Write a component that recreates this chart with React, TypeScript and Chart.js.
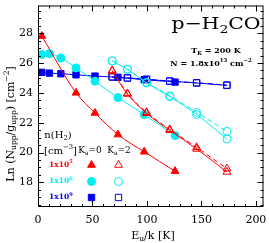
import React, { useEffect, useRef } from "react";
import { Chart, registerables } from "chart.js";

Chart.register(...registerables);

// Energies of upper levels (K)
const E_KA0 = [3.5, 10.5, 21.0, 34.9, 52.3, 73.4, 97.5, 125.8];
const E_KA0_RED = [3.5, 34.9, 52.3, 73.4, 97.5, 125.8];
const E_KA2 = [68.1, 82.1, 99.6, 120.9, 145.6, 173.4];

// Ln(Nupp/gupp) values
const RED_KA0 = [27.8, 24.0, 22.65, 21.2, 20.05, 18.75];
const CYAN_KA0 = [26.57, 26.62, 26.33, 25.67, 24.78, 23.68, 22.54, 21.14];
const BLUE_KA0 = [25.37, 25.32, 25.28, 25.21, 25.12, 25.04, 24.88, 24.72];

const RED_KA2 = [25.45, 23.92, 22.63, 21.49, 20.24, 18.7];
const RED_KA2_B = [25.5, 23.96, 22.7, 21.55, 20.35, 18.92];
const CYAN_KA2 = [26.14, 25.57, 24.66, 23.75, 22.55, 20.91];
const CYAN_KA2_B = [26.14, 25.58, 24.7, 23.8, 22.69, 21.42];
const BLUE_KA2 = [25.06, 24.99, 24.9, 24.78, 24.66, 24.5];
const BLUE_KA2_B = [25.07, 25.0, 24.91, 24.79, 24.67, 24.52];

const X_MIN = 0;
const X_MAX = 207;
const Y_MIN = 16.35;
const Y_MAX = 29.85;
const X_MAJOR = 50;
const X_MINOR = 10;
const Y_MAJOR = 2;
const Y_MINOR = 0.5;
const X_TICK_LABELS = [0, 50, 100, 150, 200];
const Y_TICK_LABELS = [18, 20, 22, 24, 26, 28];

const DENSITY_EXP = ["5", "6", "9"];

const RED = "#ff0000";
const CYAN = "#00eef2";
const BLUE = "#0000ee";
const SERIF = "'DejaVu Serif'";

type Seg = { t: string; k?: "sub" | "sup" };

function rich(
  ctx: CanvasRenderingContext2D,
  segs: Seg[],
  x: number,
  y: number,
  size: number,
  weight: string,
  color: string,
  align: "left" | "center" | "right" = "center",
  family: string = SERIF
) {
  const fN = `${weight} ${size}px ${family}`;
  const fS = `${weight} ${Math.round(size * 0.68 * 10) / 10}px ${family}`;
  ctx.save();
  ctx.fillStyle = color;
  ctx.textBaseline = "middle";
  ctx.textAlign = "left";
  let w = 0;
  for (const s of segs) {
    ctx.font = s.k ? fS : fN;
    w += ctx.measureText(s.t).width;
  }
  let cx = align === "center" ? x - w / 2 : align === "left" ? x : x - w;
  for (const s of segs) {
    ctx.font = s.k ? fS : fN;
    const dy = s.k === "sub" ? size * 0.32 : s.k === "sup" ? -size * 0.38 : 0;
    ctx.fillText(s.t, cx, y + dy);
    cx += ctx.measureText(s.t).width;
  }
  ctx.restore();
}

function marker(
  ctx: CanvasRenderingContext2D,
  kind: string,
  x: number,
  y: number,
  r: number,
  color: string,
  filled: boolean
) {
  ctx.save();
  ctx.beginPath();
  if (kind === "triangle") {
    ctx.moveTo(x, y - r);
    ctx.lineTo(x + r * 0.866, y + r * 0.5);
    ctx.lineTo(x - r * 0.866, y + r * 0.5);
    ctx.closePath();
  } else if (kind === "circle") {
    ctx.arc(x, y, r, 0, Math.PI * 2);
  } else {
    const s = r * Math.SQRT1_2;
    ctx.rect(x - s, y - s, 2 * s, 2 * s);
  }
  ctx.lineWidth = 1;
  ctx.strokeStyle = color;
  if (filled) {
    ctx.fillStyle = color;
    ctx.fill();
  }
  ctx.stroke();
  ctx.restore();
}

const decorPlugin = {
  id: "decor",
  afterDraw(chart: any) {
    const ctx: CanvasRenderingContext2D = chart.ctx;
    const { left, right, top, bottom } = chart.chartArea;
    const xs = chart.scales.x;
    const ys = chart.scales.y;
    ctx.save();
    ctx.strokeStyle = "#000";
    ctx.lineWidth = 1;
    ctx.strokeRect(left + 0.5, top + 0.5, right - left - 1, bottom - top - 1);
    // ticks
    ctx.beginPath();
    for (let v = X_MIN; v <= X_MAX + 1e-6; v += X_MINOR) {
      const p = Math.round(xs.getPixelForValue(v)) + 0.5;
      const major = Math.abs(v % X_MAJOR) < 1e-6;
      const len = major ? 6 : 3;
      ctx.moveTo(p, bottom);
      ctx.lineTo(p, bottom - len);
      ctx.moveTo(p, top);
      ctx.lineTo(p, top + len);
    }
    const y0 = Math.ceil(Y_MIN / Y_MINOR) * Y_MINOR;
    for (let v = y0; v <= Y_MAX + 1e-6; v += Y_MINOR) {
      const p = Math.round(ys.getPixelForValue(v)) + 0.5;
      const major = Math.abs(v % Y_MAJOR) < 1e-6;
      const len = major ? 6 : 3;
      ctx.moveTo(left, p);
      ctx.lineTo(left + len, p);
      ctx.moveTo(right, p);
      ctx.lineTo(right - len, p);
    }
    ctx.stroke();

    // tick labels
    ctx.fillStyle = "#000";
    ctx.font = `11px ${SERIF}`;
    ctx.textBaseline = "middle";
    ctx.textAlign = "center";
    X_TICK_LABELS.forEach((v) => {
      ctx.fillText(String(v), xs.getPixelForValue(v), bottom + 13);
    });
    ctx.textAlign = "right";
    Y_TICK_LABELS.forEach((v) => {
      ctx.fillText(String(v), left - 5, ys.getPixelForValue(v));
    });
    ctx.restore();

    // axis titles
    ctx.save();
    ctx.translate(11, 124);
    ctx.rotate(-Math.PI / 2);
    rich(
      ctx,
      [
        { t: "Ln (N" },
        { t: "upp", k: "sub" },
        { t: "/g" },
        { t: "upp", k: "sub" },
        { t: ") [cm" },
        { t: "−2", k: "sup" },
        { t: "]" },
      ],
      0,
      0,
      11,
      "normal",
      "#000"
    );
    ctx.restore();
    rich(ctx, [{ t: "E" }, { t: "u", k: "sub" }, { t: "/k [K]" }], 153, 236, 11, "normal", "#000");

    // title
    ctx.save();
    ctx.translate(216, 25);
    ctx.scale(1.2, 1);
    rich(ctx, [{ t: "p−H" }, { t: "2", k: "sub" }, { t: "CO" }], 0, 0, 17, "normal", "#000");
    ctx.restore();
    rich(ctx, [{ t: "T" }, { t: "K", k: "sub" }, { t: " = 200 K" }], 216, 51, 8, "bold", "#000");
    rich(
      ctx,
      [{ t: "N = 1.8x10" }, { t: "13", k: "sup" }, { t: " cm" }, { t: "−2", k: "sup" }],
      211,
      64,
      8,
      "bold",
      "#000"
    );

    // legend block
    rich(ctx, [{ t: "n(H" }, { t: "2", k: "sub" }, { t: ")" }], 58, 135, 10, "normal", "#000");
    rich(ctx, [{ t: "[cm" }, { t: "−3", k: "sup" }, { t: "]" }], 44, 151, 10, "normal", "#000", "left");
    rich(ctx, [{ t: "K" }, { t: "a", k: "sub" }, { t: "=0" }], 90, 151, 9, "normal", "#000");
    rich(ctx, [{ t: "K" }, { t: "a", k: "sub" }, { t: "=2" }], 119, 151, 9, "normal", "#000");
    const rows = [
      { c: RED, y: 165, m: "triangle", r: 4.5 },
      { c: CYAN, y: 181.5, m: "circle", r: 4 },
      { c: BLUE, y: 197.5, m: "rect", r: 4.5 },
    ];
    rows.forEach((row, i) => {
      rich(ctx, [{ t: "1x10" }, { t: DENSITY_EXP[i], k: "sup" }], 49, row.y, 7.5, "bold", row.c, "left");
      marker(ctx, row.m, 91.5, row.y, row.r, row.c, true);
      marker(ctx, row.m, 118.5, row.y, row.r, row.c, false);
    });
  },
};

const pts = (xs: number[], ys: number[]) => xs.map((x, i) => ({ x, y: ys[i] }));

function series(
  xs: number[],
  ys: number[],
  color: string,
  style: string,
  radius: number,
  filled: boolean,
  dashed: boolean
) {
  return {
    data: pts(xs, ys),
    borderColor: color,
    borderWidth: 1,
    borderDash: dashed ? [5, 3] : [],
    pointStyle: style,
    pointRadius: radius,
    pointBorderColor: color,
    pointBorderWidth: 1,
    pointBackgroundColor: filled ? color : "rgba(0,0,0,0)",
    cubicInterpolationMode: "monotone" as const,
    fill: false,
  };
}

export default function App() {
  const ref = useRef<HTMLCanvasElement | null>(null);
  useEffect(() => {
    if (!ref.current) return;
    const chart = new Chart(ref.current, {
      type: "line",
      data: {
        datasets: [
          series(E_KA2, RED_KA2_B, RED, "triangle", 4.5, false, true),
          series(E_KA2, RED_KA2, RED, "triangle", 4.5, false, false),
          series(E_KA0_RED, RED_KA0, RED, "triangle", 4.5, true, false),
          series(E_KA2, CYAN_KA2_B, CYAN, "circle", 4, false, true),
          series(E_KA2, CYAN_KA2, CYAN, "circle", 4, false, false),
          series(E_KA0, CYAN_KA0, CYAN, "circle", 4, true, false),
          series(E_KA2, BLUE_KA2_B, BLUE, "rect", 4.5, false, true),
          series(E_KA2, BLUE_KA2, BLUE, "rect", 4.5, false, false),
          series(E_KA0, BLUE_KA0, BLUE, "rect", 4.5, true, false),
        ] as any,
      },
      options: {
        animation: false,
        responsive: false,
        layout: { padding: { top: 1, right: 3, left: 0, bottom: 0 } },
        plugins: { legend: { display: false }, tooltip: { enabled: false } },
        scales: {
          x: {
            type: "linear",
            min: X_MIN,
            max: X_MAX,
            grid: { display: false, drawTicks: false },
            border: { display: false },
            ticks: { display: false },
            afterFit: (s: any) => {
              s.height = 36;
            },
          },
          y: {
            type: "linear",
            min: Y_MIN,
            max: Y_MAX,
            grid: { display: false, drawTicks: false },
            border: { display: false },
            ticks: { display: false },
            afterFit: (s: any) => {
              s.width = 38;
            },
          },
        },
      } as any,
      plugins: [decorPlugin],
    });
    return () => chart.destroy();
  }, []);
  return (
    <canvas
      ref={ref}
      width={269}
      height={243}
      style={{ position: "absolute", left: 0, top: 0, width: 269, height: 243 }}
    />
  );
}
